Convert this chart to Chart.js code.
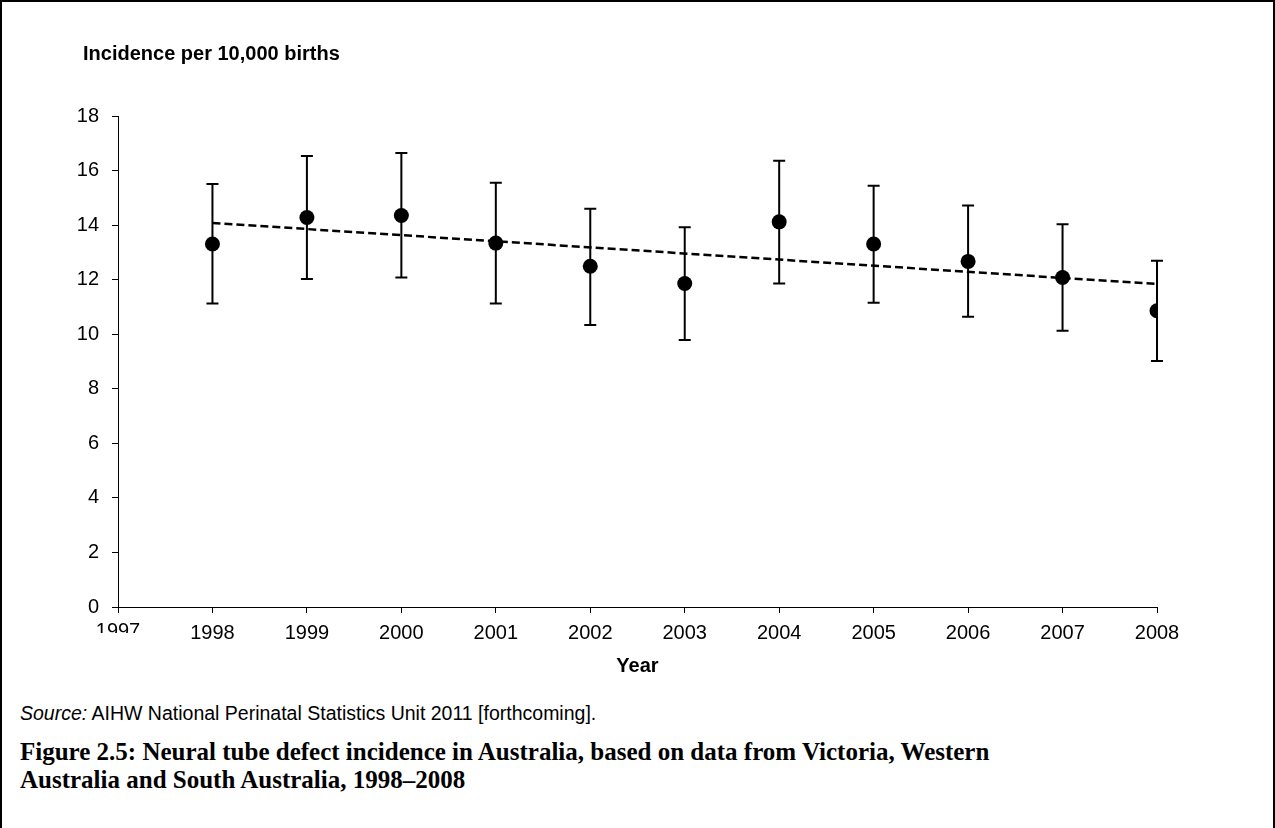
<!DOCTYPE html>
<html>
<head>
<meta charset="utf-8">
<script src="https://cdn.jsdelivr.net/npm/chart.js@4.4.1/dist/chart.umd.min.js"></script>
<style>
  body { margin: 0; background: #fff; width: 1275px; height: 828px; overflow: hidden; position: relative; }
  #frame { position: absolute; left: 0; top: 0; width: 1271px; height: 900px; border-top: 2px solid #000; border-left: 2px solid #000; border-right: 2px solid #000; }
  #wrap { position: absolute; left: 0; top: 0; width: 1275px; height: 690px; }
  #ytitle { position: absolute; left: 83px; top: 41px; font-family: "Liberation Sans", Arial, sans-serif; font-weight: bold; font-size: 20px; line-height: 24px; color: #000; }
  #source { position: absolute; left: 20px; top: 702px; font-family: "Liberation Sans", Arial, sans-serif; font-size: 19.5px; color: #000; }
  #caption { position: absolute; left: 20px; top: 738px; width: 1240px; font-family: "Liberation Serif", serif; font-weight: bold; font-size: 25px; line-height: 28px; color: #000; }
</style>
</head>
<body>
<div id="frame"></div>
<div id="wrap"><canvas id="myChart"></canvas></div>
<div id="ytitle">Incidence per 10,000 births</div>
<div id="source"><i>Source:</i> AIHW National Perinatal Statistics Unit 2011 [forthcoming].</div>
<div id="caption">Figure 2.5: Neural tube defect incidence in Australia, based on data from Victoria, Western<br>Australia and South Australia, 1998–2008</div>
<script>
let years = [1998, 1999, 2000, 2001, 2002, 2003, 2004, 2005, 2006, 2007, 2008];
let incidence = [13.31, 14.28, 14.35, 13.34, 12.49, 11.86, 14.12, 13.31, 12.67, 12.08, 10.86];
let upper = [15.51, 16.53, 16.64, 15.55, 14.60, 13.92, 16.36, 15.44, 14.72, 14.03, 12.69];
let lower = [11.13, 12.02, 12.08, 11.13, 10.34, 9.79, 11.86, 11.15, 10.64, 10.13, 9.02];
let trendYears = [1998, 2008];
let trendValues = [14.08, 11.84];

let axisFont = { family: "Liberation Sans", size: 20 };

// error bars + the half-hidden 1997 label
let errorBars = {
  id: "errorBars",
  beforeDatasetsDraw(chart) {
    let ctx = chart.ctx, x = chart.scales.x, y = chart.scales.y;
    ctx.save();
    ctx.strokeStyle = "#000";
    ctx.lineWidth = 2;
    for (let i = 0; i < years.length; i++) {
      let px = x.getPixelForValue(years[i]);
      let top = y.getPixelForValue(upper[i]);
      let bot = y.getPixelForValue(lower[i]);
      ctx.beginPath();
      ctx.moveTo(px, top); ctx.lineTo(px, bot);
      ctx.moveTo(px - 6, top); ctx.lineTo(px + 6, top);
      ctx.moveTo(px - 6, bot); ctx.lineTo(px + 6, bot);
      ctx.stroke();
    }
    ctx.restore();
  },
  afterDraw(chart) {
    let ctx = chart.ctx, x = chart.scales.x;
    ctx.save();
    ctx.beginPath();
    ctx.rect(x.left - 40, x.top + 8, 80, 18);
    ctx.clip();
    ctx.font = "20px 'Liberation Sans'";
    ctx.fillStyle = "#000";
    ctx.textAlign = "center";
    ctx.textBaseline = "middle";
    ctx.fillText("1997", x.getPixelForValue(1997), x.top + 6 + 7 + 11);
    ctx.restore();
  }
};

new Chart(document.getElementById("myChart"), {
  type: "scatter",
  data: {
    datasets: [{
      type: "line",
      data: trendYears.map((v, i) => ({ x: v, y: trendValues[i] })),
      borderColor: "#000",
      borderWidth: 2.5,
      borderDash: [8, 4],
      pointRadius: 0,
      fill: false,
      order: 1
    }, {
      data: years.map((v, i) => ({ x: v, y: incidence[i] })),
      backgroundColor: "#000",
      borderWidth: 0,
      pointRadius: 7.5,
      order: 0
    }]
  },
  options: {
    responsive: true,
    maintainAspectRatio: false,
    animation: false,
    layout: { padding: { left: 30, right: 118, top: 116, bottom: 0 } },
    plugins: {
      legend: { display: false },
      tooltip: { enabled: false }
    },
    scales: {
      x: {
        type: "linear",
        min: 1997,
        max: 2008,
        afterFit: s => { s.height = 83; },
        ticks: {
          stepSize: 1,
          color: "#000",
          font: axisFont,
          padding: 8,
          maxRotation: 0,
          callback: v => v == 1997 ? "" : String(v)
        },
        grid: { drawOnChartArea: false, tickLength: 6, color: "#000" },
        border: { color: "#000", width: 1 },
        title: {
          display: true,
          text: "Year",
          color: "#000",
          font: { family: "Liberation Sans", size: 20, weight: "bold" },
          padding: { top: 0, bottom: 12 }
        }
      },
      y: {
        min: 0,
        max: 18,
        afterFit: s => { s.width = 88; },
        ticks: { stepSize: 2, color: "#000", font: axisFont, padding: 13 },
        grid: { drawOnChartArea: false, tickLength: 6, color: "#000" },
        border: { color: "#000", width: 1 }
      }
    }
  },
  plugins: [errorBars]
});
</script>
</body>
</html>
